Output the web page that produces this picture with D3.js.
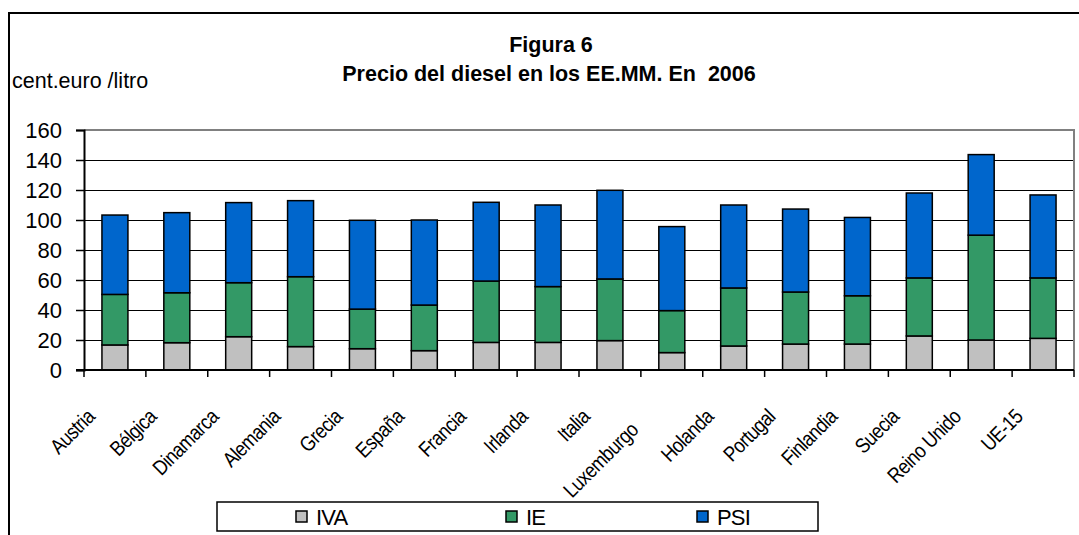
<!DOCTYPE html>
<html>
<head>
<meta charset="utf-8">
<script src="https://cdn.jsdelivr.net/npm/d3@7"></script>
<style>
  body { margin: 0; background: #fff; }
  svg text { font-family: "Liberation Sans", Arial, sans-serif; fill: #000; }
</style>
</head>
<body>
<div class="container"></div>
<script>
// data (cent.euro / litro)
var countries = ['Austria', 'Bélgica', 'Dinamarca', 'Alemania', 'Grecia', 'España', 'Francia', 'Irlanda',
  'Italia', 'Luxemburgo', 'Holanda', 'Portugal', 'Finlandia', 'Suecia', 'Reino Unido', 'UE-15']
var iva = [16.7, 18.2, 22.2, 15.6, 14.2, 12.9, 18.4, 18.4, 19.6, 11.6, 16.0, 17.3, 17.3, 22.7, 20.0, 21.1]
var ie = [33.7, 33.3, 36.0, 46.6, 26.4, 30.4, 40.9, 37.2, 41.1, 28.0, 38.7, 34.7, 32.2, 38.7, 69.9, 40.3]
var psi = [52.9, 53.4, 53.4, 50.7, 59.2, 56.7, 52.5, 54.4, 59.1, 56.0, 55.3, 55.3, 52.2, 56.6, 53.7, 55.3]
var seriesNames = ['IVA', 'IE', 'PSI']
var yTicks = [0, 20, 40, 60, 80, 100, 120, 140, 160]

var colors = { IVA: '#c0c0c0', IE: '#339966', PSI: '#0066cc' }

var W = 1079
var H = 535
var plot = { left: 84, right: 1074, top: 130, bottom: 370 }

var svg = d3.select('.container')
            .append('svg')
            .attr('width', W)
            .attr('height', H)

// outer frame (runs off the right and bottom edges like the original)
svg.append('path')
   .attr('d', 'M9,' + (H + 5) + 'V13H' + (W + 5))
   .attr('fill', 'none')
   .attr('stroke', '#000')
   .attr('stroke-width', 2)

var xScale = d3.scaleBand()
               .domain(countries)
               .range([plot.left, plot.right])
               .paddingInner(0.58)
               .paddingOuter(0.29)

var xBand = d3.scaleBand()
              .domain(countries)
              .range([plot.left, plot.right])

var yScale = d3.scaleLinear()
               .domain([0, 160])
               .range([plot.bottom, plot.top])

// gridlines
svg.append('g')
   .selectAll('line')
   .data(yTicks.filter(function (d) { return d > 0 && d < 160 }))
   .enter()
   .append('line')
   .attr('x1', plot.left)
   .attr('x2', plot.right)
   .attr('y1', function (d) { return yScale(d) + 0.5 })
   .attr('y2', function (d) { return yScale(d) + 0.5 })
   .attr('stroke', '#000')
   .attr('stroke-width', 1)

// plot area border (top / right, grey)
svg.append('path')
   .attr('d', 'M' + plot.left + ',' + plot.top + 'H' + plot.right + 'V' + plot.bottom)
   .attr('fill', 'none')
   .attr('stroke', '#808080')
   .attr('stroke-width', 2)

// stacked bars
var table = countries.map(function (c, i) {
  return { country: c, IVA: iva[i], IE: ie[i], PSI: psi[i] }
})
var stacked = d3.stack().keys(seriesNames)(table)

svg.append('g')
   .selectAll('g')
   .data(stacked)
   .enter()
   .append('g')
   .attr('fill', function (d) { return colors[d.key] })
   .selectAll('rect')
   .data(function (d) { return d })
   .enter()
   .append('rect')
   .attr('x', function (d) { return xScale(d.data.country) })
   .attr('width', xScale.bandwidth())
   .attr('y', function (d) { return yScale(d[1]) })
   .attr('height', function (d) { return yScale(d[0]) - yScale(d[1]) })
   .attr('stroke', '#000')
   .attr('stroke-width', 1.5)

// y axis
var yAxis = svg.append('g')
               .attr('transform', 'translate(' + plot.left + ',0)')
               .call(d3.axisLeft(yScale).tickValues(yTicks).tickSize(8).tickPadding(14))
yAxis.select('.domain').attr('stroke-width', 2)
yAxis.selectAll('.tick line').attr('stroke-width', 1.5)
yAxis.selectAll('.tick text')
     .style('font-size', '22px')
     .attr('dy', '0.36em')

// x axis (ticks between categories)
var xAxisG = svg.append('g')
                .attr('transform', 'translate(0,' + plot.bottom + ')')
xAxisG.append('line')
      .attr('x1', plot.left - 8)
      .attr('x2', plot.right)
      .attr('stroke', '#000')
      .attr('stroke-width', 2)
xAxisG.selectAll('.xtick')
      .data(countries.concat(['end']))
      .enter()
      .append('line')
      .attr('class', 'xtick')
      .attr('x1', function (d, i) { return plot.left + i * xBand.step() })
      .attr('x2', function (d, i) { return plot.left + i * xBand.step() })
      .attr('y1', 0)
      .attr('y2', 7)
      .attr('stroke', '#000')
      .attr('stroke-width', 1.5)

// Excel squeezes the rotated labels, so compress them along the baseline
// (Luxemburgo sits a bit lower down its diagonal in the original)
xAxisG.selectAll('.xlabel')
      .data(countries)
      .enter()
      .append('text')
      .attr('class', 'xlabel')
      .attr('text-anchor', 'end')
      .attr('x', function (d) { return d === 'Luxemburgo' ? -22 : 0 })
      .style('font-size', '21px')
      .style('letter-spacing', '-0.6px')
      .attr('transform', function (d) {
        var cx = xBand(d) + xBand.bandwidth() / 2 - 19
        return 'translate(' + cx + ',48) rotate(-45) scale(0.86,1)'
      })
      .text(function (d) { return d })

// titles
svg.append('text')
   .attr('x', 551)
   .attr('y', 52)
   .attr('text-anchor', 'middle')
   .style('font-size', '21.5px')
   .style('font-weight', 'bold')
   .text('Figura 6')

svg.append('text')
   .attr('x', 549)
   .attr('y', 81)
   .attr('text-anchor', 'middle')
   .style('font-size', '21.5px')
   .style('font-weight', 'bold')
   .style('white-space', 'pre')
   .attr('xml:space', 'preserve')
   .text('Precio del diesel en los EE.MM. En  2006')

svg.append('text')
   .attr('x', 12)
   .attr('y', 88)
   .style('font-size', '21.5px')
   .text('cent.euro /litro')

// legend
var legend = svg.append('g')
legend.append('rect')
      .attr('x', 217)
      .attr('y', 502)
      .attr('width', 601)
      .attr('height', 29)
      .attr('fill', '#fff')
      .attr('stroke', '#000')
      .attr('stroke-width', 1.5)

var legendX = [296, 506, 697]
var item = legend.selectAll('.item')
                 .data(seriesNames)
                 .enter()
                 .append('g')
                 .attr('class', 'item')
                 .attr('transform', function (d, i) { return 'translate(' + legendX[i] + ',0)' })

item.append('rect')
    .attr('y', 511)
    .attr('width', 11)
    .attr('height', 11)
    .attr('fill', function (d) { return colors[d] })
    .attr('stroke', '#000')
    .attr('stroke-width', 1.5)

item.append('text')
    .attr('x', 20)
    .attr('y', 525)
    .style('font-size', '22px')
    .style('letter-spacing', '-0.8px')
    .text(function (d) { return d })
</script>
</body>
</html>
